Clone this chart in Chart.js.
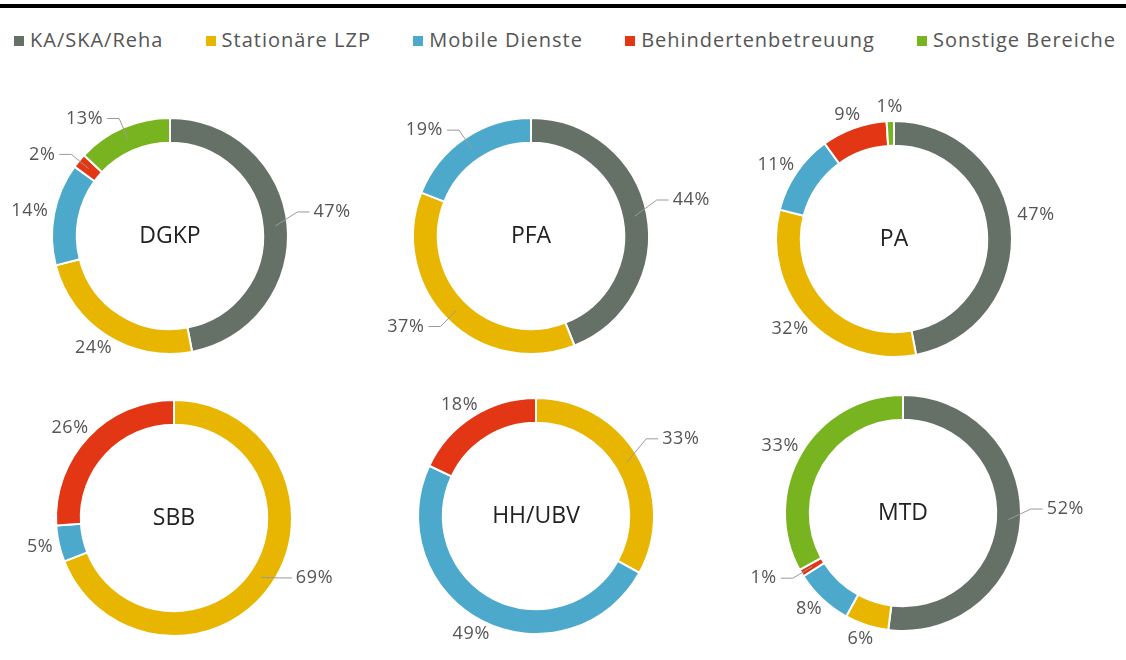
<!DOCTYPE html>
<html>
<head>
<meta charset="utf-8">
<script src="https://cdn.jsdelivr.net/npm/chart.js@4/dist/chart.umd.min.js"></script>
<style>
  html, body { margin: 0; padding: 0; background: #fff; }
  body { width: 1126px; height: 660px; position: relative; overflow: hidden; font-family: "Open Sans", sans-serif; }
  #topline { position: absolute; left: 0; top: 4px; width: 1126px; height: 4px; background: #000; }
  #legend { position: absolute; left: 14px; top: 26px; width: 1102px; display: flex; justify-content: space-between; align-items: center; }
  .li { display: flex; align-items: center; font-size: 20px; color: #555; letter-spacing: 1px; white-space: nowrap; }
  .sw { width: 10px; height: 10px; margin-right: 6px; margin-top: 3px; }
  .cw { position: absolute; width: 400px; height: 300px; }
</style>
</head>
<body>
<div id="topline"></div>
<div id="legend"></div>
<script>
// ---- data ----
const categories = ['KA/SKA/Reha', 'Stationäre LZP', 'Mobile Dienste', 'Behindertenbetreuung', 'Sonstige Bereiche'];
const groups = ['DGKP', 'PFA', 'PA', 'SBB', 'HH/UBV', 'MTD'];
const dgkp  = [47, 24, 14, 2, 13];
const pfa   = [44, 37, 19, 0, 0];
const pa    = [47, 32, 11, 9, 1];
const sbb   = [0, 69, 5, 26, 0];
const hhubv = [0, 33, 49, 18, 0];
const mtd   = [52, 6, 8, 1, 33];

// ---- styling ----
const colors = ['#657066', '#E8B500', '#4DA9CB', '#E23615', '#77B41F'];
// which labels are drawn with a connector line
const connectorFlags = [
  [true, false, false, true, true],
  [true, true, true, false, false],
  [false, false, false, false, false],
  [false, true, false, false, false],
  [false, true, false, false, false],
  [true, false, false, true, false]
];
const centers = [[170, 236], [531, 236], [894, 239], [174, 518], [536, 516], [903, 513]];
const seriesList = [dgkp, pfa, pa, sbb, hhubv, mtd];

// legend
const legend = document.getElementById('legend');
categories.forEach((c, i) => {
  const d = document.createElement('div');
  d.className = 'li';
  d.innerHTML = '<span class="sw" style="background:' + colors[i] + '"></span><span></span>';
  d.lastChild.textContent = c;
  legend.appendChild(d);
});

const labelPlugin = {
  id: 'donutLabels',
  afterDatasetsDraw(chart) {
    const ctx = chart.ctx;
    const meta = chart.getDatasetMeta(0);
    const vals = chart.data.datasets[0].data;
    const flags = chart.options.plugins.donutLabels.flags;
    const title = chart.options.plugins.donutLabels.title;
    ctx.save();
    // center title
    const a0 = meta.data[0];
    ctx.font = '23px "Open Sans"';
    ctx.fillStyle = '#222';
    ctx.textAlign = 'center';
    ctx.textBaseline = 'middle';
    ctx.fillText(title, a0.x, a0.y);
    // labels
    ctx.font = '18px "Open Sans"';
    try { ctx.letterSpacing = '0.6px'; } catch (e) {}
    ctx.fillStyle = '#555';
    meta.data.forEach((arc, i) => {
      if (!vals[i]) return;
      const txt = vals[i] + '%';
      const a = (arc.startAngle + arc.endAngle) / 2;
      const dx = Math.cos(a), dy = Math.sin(a);
      const r = arc.outerRadius, ir = arc.innerRadius;
      const w = ctx.measureText(txt).width, h = 16;
      const lift = dx > 0.8 ? -12 : 0;
      if (flags[i]) {
        const side = dx >= 0 ? 1 : -1;
        const m = (r + ir) / 2;
        const ex = arc.x + (r + 10) * dx, ey = arc.y + (r + 10) * dy + lift;
        const hx = ex + side * 12;
        ctx.strokeStyle = '#9a9a9a';
        ctx.lineWidth = 1;
        ctx.beginPath();
        ctx.moveTo(arc.x + m * dx, arc.y + m * dy);
        ctx.lineTo(ex, ey);
        ctx.lineTo(hx, ey);
        ctx.stroke();
        ctx.textAlign = side > 0 ? 'left' : 'right';
        ctx.textBaseline = 'middle';
        ctx.fillText(txt, hx + side * 4, ey);
      } else {
        const px = arc.x + (r + 6) * dx, py = arc.y + (r + 6) * dy;
        const cx = px + (w / 2) * dx, cy = py + (h / 2) * dy + lift;
        ctx.textAlign = 'center';
        ctx.textBaseline = 'middle';
        ctx.fillText(txt, cx, cy);
      }
    });
    ctx.restore();
  }
};

seriesList.forEach((vals, k) => {
  const wrap = document.createElement('div');
  wrap.className = 'cw';
  wrap.style.left = (centers[k][0] - 200) + 'px';
  wrap.style.top = (centers[k][1] - 150) + 'px';
  const cv = document.createElement('canvas');
  cv.width = 400; cv.height = 300;
  wrap.appendChild(cv);
  document.body.appendChild(wrap);
  new Chart(cv, {
    type: 'doughnut',
    data: {
      labels: categories,
      datasets: [{
        data: vals,
        backgroundColor: colors,
        borderColor: '#fff',
        borderWidth: 2
      }]
    },
    options: {
      responsive: false,
      devicePixelRatio: 1,
      animation: false,
      events: [],
      cutout: '79%',
      layout: { padding: { left: 81, right: 81, top: 31, bottom: 31 } },
      plugins: {
        legend: { display: false },
        tooltip: { enabled: false },
        donutLabels: { flags: connectorFlags[k], title: groups[k] }
      }
    },
    plugins: [labelPlugin]
  });
});
</script>
</body>
</html>
